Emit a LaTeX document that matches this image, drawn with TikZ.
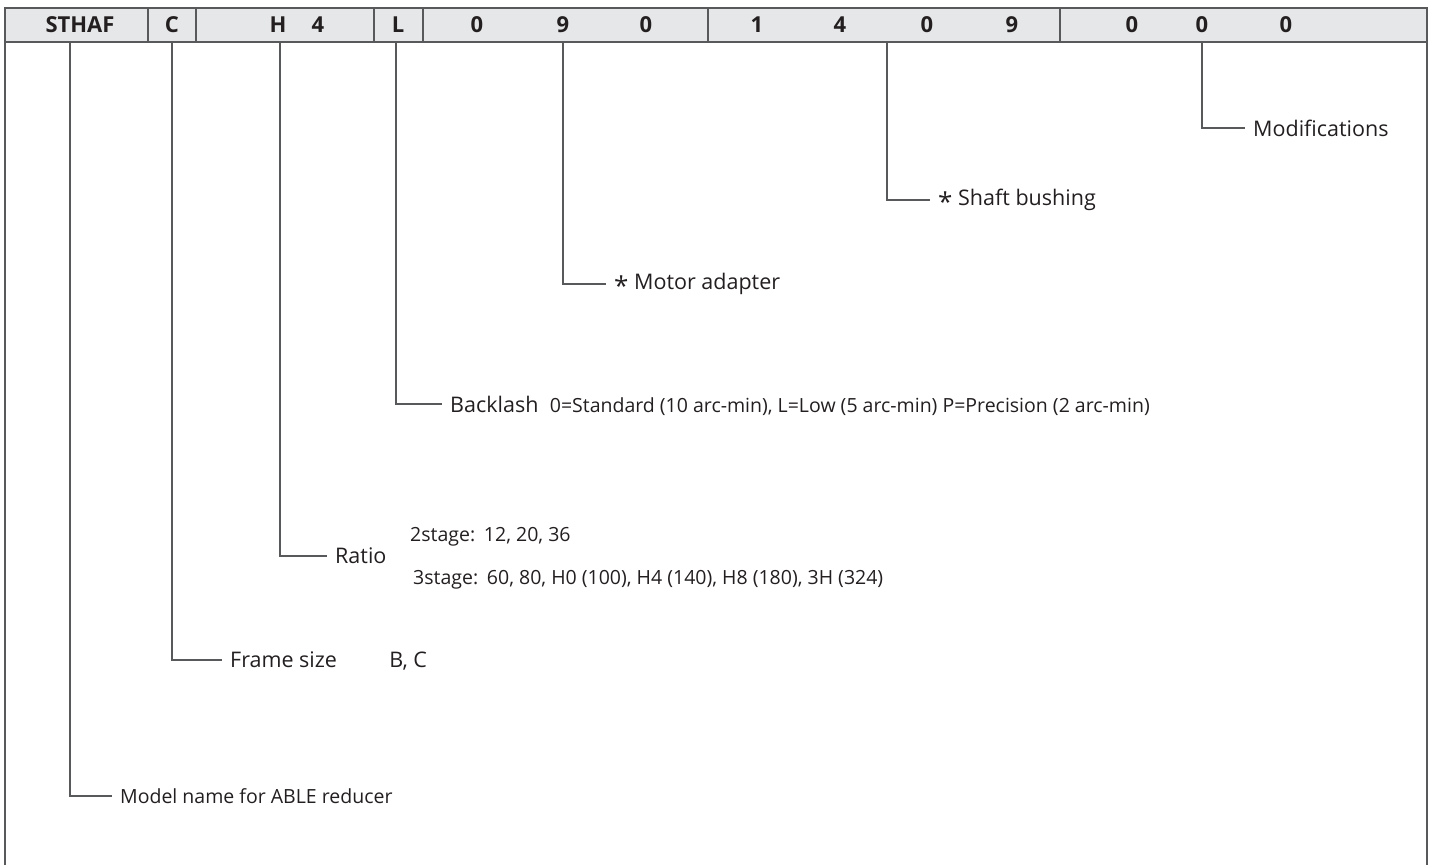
\documentclass[tikz,border=0pt]{standalone}
\usepackage{fontspec}
\setmainfont{Open Sans}
\usetikzlibrary{positioning}
\definecolor{hdrgray}{HTML}{E6E7E8}
\definecolor{linegray}{HTML}{58595B}
\definecolor{inkdark}{HTML}{231F20}
\newcommand{\starmark}{\raisebox{-0.55ex}{\fontsize{26}{26}\selectfont *}}

\begin{document}
\begin{tikzpicture}[
    x=1pt, y=-1pt,
    frame/.style={draw=linegray, line width=1.5pt},
    codechar/.style={font=\bfseries\fontsize{22}{24}\selectfont, text=inkdark, inner sep=0pt},
    lead/.style={draw=linegray, line width=1.2pt, shorten >=8pt},
    callout/.style={anchor=west, font=\fontsize{21.5}{25}\selectfont, text=inkdark, inner sep=0pt},
    desc/.style={anchor=base west, font=\fontsize{19.5}{23}\selectfont, text=inkdark, inner sep=0pt}
]
\useasboundingbox (0,0) rectangle (1430,865);

% Header row with the code
\fill[hdrgray] (5,8) rectangle (1427,42);
\draw[frame] (5,865) -- (5,8) -- (1427,8) -- (1427,865);
\draw[frame] (5,42) -- (1427,42);
\foreach \x in {148,196,374,423,708,1060}
    \draw[frame] (\x,8) -- (\x,42);

\node[codechar] (sthaf) at (80,25) {STHAF};
\node[codechar] (frm) at (172,25) {C};
\node[codechar] (rh) at (278,25) {H};
\node[codechar] (r4) at (318,25) {4};
\node[codechar] (blc) at (398,25) {L};
\node[codechar] (ma) at (477,25) {0};
\node[codechar] (mb) at (563,25) {9};
\node[codechar] (mc) at (646,25) {0};
\node[codechar] (sa) at (757,25) {1};
\node[codechar] (sb) at (840,25) {4};
\node[codechar] (sc) at (927,25) {0};
\node[codechar] (sd) at (1012,25) {9};
\node[codechar] (oa) at (1132,25) {0};
\node[codechar] (ob) at (1202,25) {0};
\node[codechar] (oc) at (1286,25) {0};

% Leader start points under the header
\coordinate (tModel) at (70,42);
\coordinate (tFrame) at (172,42);
\coordinate (tRatio) at (280,42);
\coordinate (tBack) at (396,42);
\coordinate (tMotor) at (563,42);
\coordinate (tShaft) at (887,42);
\coordinate (tMods) at (1202,42);

% Labels
\node[callout] (mods) at (1253,128) {Modifications};
\node[callout] (shaft) at (938,200) {\starmark\ Shaft bushing};
\node[callout] (motor) at (614,284) {\starmark\ Motor adapter};
\node[callout] (back) at (450,404) {Backlash};
\node[desc] (backopts) at ([xshift=11pt]back.base east) {0=Standard (10 arc-min), L=Low (5 arc-min) P=Precision (2 arc-min)};
\node[callout] (ratio) at (335,556) {Ratio};
\node[desc] (stage2) at (410,541) {2stage:\hspace{0.45em}12, 20, 36};
\node[desc] (stage3) at (413,584) {3stage:\hspace{0.45em}60, 80, H0 (100), H4 (140), H8 (180), 3H (324)};
\node[callout] (frame) at (230,660) {Frame size};
\node[callout, anchor=base west] (frameopts) at ([xshift=52pt]frame.base east) {B, C};
\node[desc, anchor=west] (model) at (120,796) {Model name for ABLE reducer};

% Leaders
\draw[lead] (tMods) |- (mods.west);
\draw[lead] (tShaft) |- (shaft.west);
\draw[lead] (tMotor) |- (motor.west);
\draw[lead] (tBack) |- (back.west);
\draw[lead] (tRatio) |- (ratio.west);
\draw[lead] (tFrame) |- (frame.west);
\draw[lead] (tModel) |- (model.west);

\end{tikzpicture}
\end{document}
